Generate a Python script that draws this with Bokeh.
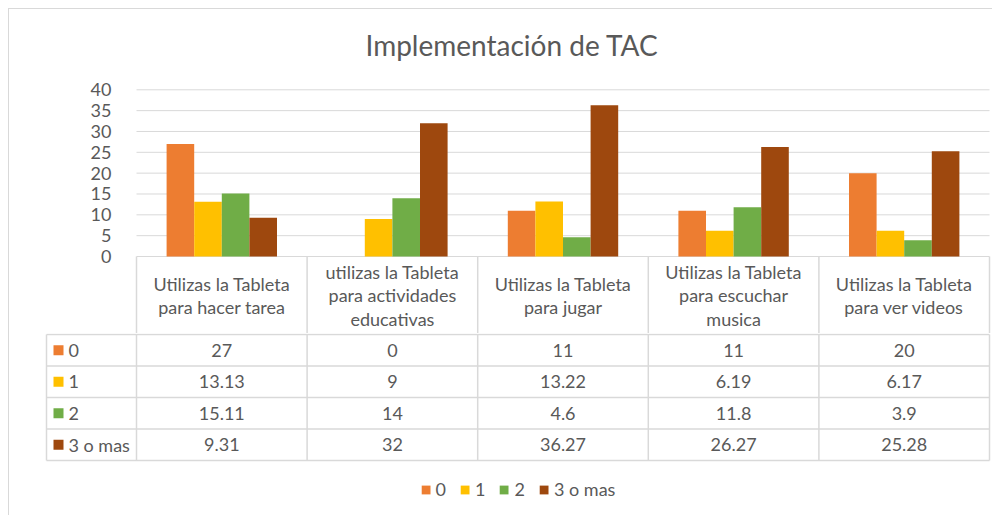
from bokeh.plotting import figure
from bokeh.models import Range1d, FixedTicker, Legend, LegendItem
from bokeh.layouts import column
from bokeh.embed import file_html
from bokeh.resources import INLINE
from bokeh.core.properties import value

# ---------------- data ----------------
categories = [
    "Utilizas la Tableta para hacer tarea",
    "utilizas la Tableta para actividades educativas",
    "Utilizas la Tableta para jugar",
    "Utilizas la Tableta para escuchar musica",
    "Utilizas la Tableta para ver videos",
]
header_lines = [
    "Utilizas la Tableta\npara hacer tarea",
    "utilizas la Tableta\npara actividades\neducativas",
    "Utilizas la Tableta\npara jugar",
    "Utilizas la Tableta\npara escuchar\nmusica",
    "Utilizas la Tableta\npara ver videos",
]
series_names = ["0", "1", "2", "3 o mas"]
s0 = [27, 0, 11, 11, 20]
s1 = [13.13, 9, 13.22, 6.19, 6.17]
s2 = [15.11, 14, 4.6, 11.8, 3.9]
s3 = [9.31, 32, 36.27, 26.27, 25.28]
y_ticks = [0, 5, 10, 15, 20, 25, 30, 35, 40]
title_text = "Implementación de TAC"

# ---------------- styles ----------------
series = [s0, s1, s2, s3]
colors = ["#ED7D31", "#FFC000", "#70AD47", "#9E480E"]
FONT = "Lato"
TXT = "#595959"
LINE = "#d9d9d9"
FS = "18px"

n = len(categories)
rows = len(series)
X_PX = 170.6            # pixels per category
Y_PX = 166.7 / 40.0     # pixels per value unit
R_PX = 31.5             # pixels per table row
pad_x = 2.0 / X_PX
label_w = 90.0 / X_PX   # row-label column width
bar_w = 27.6 / X_PX
offsets = [(-1.5 + k) * bar_w for k in range(4)]

W = 983
LEFT = 35
RIGHT = 1
x_lo = -label_w - pad_x
x_hi = n + pad_x

# ---------------- figure 1: title, bars, header row ----------------
H1 = 324
top1 = 66
frame1_h = H1 - top1
y_end = 40 + 14.3 / Y_PX
y_start = y_end - frame1_h / Y_PX

p1 = figure(width=W, height=H1, output_backend="svg", toolbar_location=None,
            x_range=Range1d(x_lo, x_hi), y_range=Range1d(y_start, y_end),
            x_axis_location=None, title=title_text)
p1.min_border = 0
p1.min_border_left = LEFT
p1.min_border_right = RIGHT
p1.min_border_top = top1
p1.min_border_bottom = 0
p1.outline_line_color = None
p1.border_fill_color = "white"

p1.title.text_font = FONT
p1.title.text_font_size = "28px"
p1.title.text_font_style = "normal"
p1.title.text_color = TXT
p1.title.align = "left"
p1.title.offset = 321
p1.title.standoff = 28

p1.xgrid.visible = False
p1.ygrid.visible = False
p1.yaxis.fixed_location = 0
p1.yaxis.ticker = FixedTicker(ticks=y_ticks)
p1.yaxis.axis_line_color = None
p1.yaxis.major_tick_line_color = None
p1.yaxis.minor_tick_line_color = None
p1.yaxis.major_label_text_font = FONT
p1.yaxis.major_label_text_font_size = FS
p1.yaxis.major_label_text_color = TXT
p1.yaxis.major_label_standoff = 19

# gridlines across the category area only
p1.segment(x0=[0.0] * len(y_ticks), x1=[float(n)] * len(y_ticks),
           y0=y_ticks, y1=y_ticks, line_color=LINE, line_width=1)

for k in range(4):
    xs = [i + 0.5 + offsets[k] for i in range(n)]
    p1.vbar(x=xs, top=series[k], width=bar_w, bottom=0,
            fill_color=colors[k], line_color=None)

hdr_bottom = -78.0 / Y_PX
p1.segment(x0=list(range(n + 1)), x1=list(range(n + 1)),
           y0=[0] * (n + 1), y1=[hdr_bottom] * (n + 1),
           line_color=LINE, line_width=1.5)
p1.text(x=[i + 0.5 for i in range(n)], y=[hdr_bottom / 2] * n, text=header_lines,
        text_align="center", text_baseline="middle", text_font=value(FONT),
        text_font_size=FS, text_color=TXT, text_line_height=1.07)

# ---------------- figure 2: data rows ----------------
H2 = 130
p2 = figure(width=W, height=H2, output_backend="svg", toolbar_location=None,
            x_range=Range1d(x_lo, x_hi),
            y_range=Range1d(-rows - 3.0 / R_PX, 1.0 / R_PX),
            x_axis_location=None, y_axis_location=None)
p2.min_border = 0
p2.min_border_left = LEFT
p2.min_border_right = RIGHT
p2.outline_line_color = None
p2.xgrid.visible = False
p2.ygrid.visible = False
p2.border_fill_color = "white"

hy = [-float(r) for r in range(rows + 1)]
p2.segment(x0=[-label_w] * (rows + 1), x1=[float(n)] * (rows + 1),
           y0=hy, y1=hy, line_color=LINE, line_width=1.5)
vx = [-label_w] + [float(i) for i in range(n + 1)]
p2.segment(x0=vx, x1=vx, y0=[0.0] * len(vx), y1=[-float(rows)] * len(vx),
           line_color=LINE, line_width=1.5)

sq_w = 10.0 / X_PX
sq_h = 10.0 / R_PX
for k in range(rows):
    yc = -(k + 0.5)
    p2.vbar(x=[-label_w + 12.0 / X_PX], bottom=[yc - sq_h / 2], top=[yc + sq_h / 2],
            width=sq_w, fill_color=colors[k], line_color=None)
    p2.text(x=[-label_w + 22.0 / X_PX], y=[yc], text=[series_names[k]],
            text_align="left", text_baseline="middle", text_font=value(FONT),
            text_font_size=FS, text_color=TXT)
    p2.text(x=[i + 0.5 for i in range(n)], y=[yc] * n,
            text=[f"{v:g}" for v in series[k]],
            text_align="center", text_baseline="middle", text_font=value(FONT),
            text_font_size=FS, text_color=TXT)

# ---------------- figure 3: legend ----------------
p3 = figure(width=W, height=52, output_backend="svg", toolbar_location=None,
            x_range=Range1d(0, 1), y_range=Range1d(0, 1),
            x_axis_location=None, y_axis_location=None)
p3.min_border = 0
p3.min_border_left = LEFT
p3.min_border_right = RIGHT
p3.outline_line_color = None
p3.xgrid.visible = False
p3.ygrid.visible = False

items = []
for k in range(rows):
    # zero-height proxy bars: they only supply the legend swatch
    r = p3.vbar(x=[0.5], bottom=[0], top=[0], width=0.01,
                fill_color=colors[k], line_color=None)
    items.append(LegendItem(label=series_names[k], renderers=[r]))

legend = Legend(items=items, orientation="horizontal", location="center",
                label_text_font=FONT, label_text_font_size=FS, label_text_color=TXT,
                glyph_width=11, glyph_height=11, label_standoff=5, spacing=13,
                label_width=1, padding=0, margin=0, border_line_color=None,
                background_fill_alpha=0)
p3.add_layout(legend, "center")

layout = column(p1, p2, p3, spacing=0, margin=(8, 0, 0, 8),
                styles={"border-left": "1px solid #d9d9d9",
                        "border-top": "1px solid #d9d9d9"})

open("out.html", "w").write(file_html(layout, INLINE))
